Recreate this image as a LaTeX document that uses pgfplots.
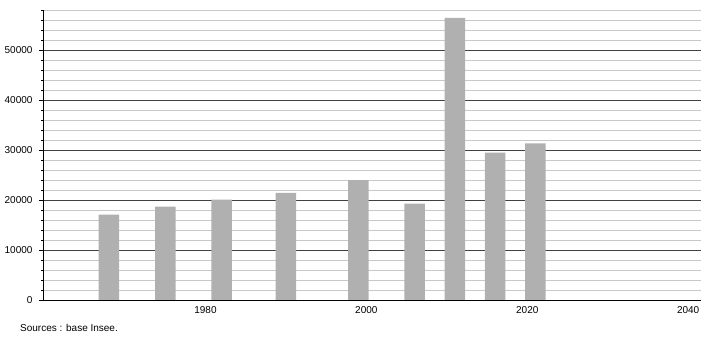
\documentclass[border=0pt]{standalone}
\usepackage{fontspec}
\setmainfont{Liberation Sans}
\usepackage{pgfplots}
\pgfplotsset{compat=1.18}
\definecolor{barg}{HTML}{B0B0B0}
\definecolor{majg}{HTML}{404040}
\definecolor{ming}{HTML}{C8C8C8}
\begin{document}
\begin{tikzpicture}
\useasboundingbox (0,0) rectangle (710pt,340pt);
\begin{axis}[
  at={(43pt,40pt)}, anchor=south west,
  scale only axis, width=658pt, height=290pt,
  xmin=1959.8, xmax=2041.6, ymin=0, ymax=58000,
  axis lines*=left,
  axis line style={black, line width=0.9pt},
  xtick={1980,2000,2020,2040},
  ytick={0,10000,20000,30000,40000,50000},
  minor ytick={2000,4000,...,58000},
  ymajorgrids, yminorgrids,
  major grid style={majg, line width=0.8pt},
  minor grid style={ming, line width=0.8pt},
  x tick style={draw=none},
  y tick style={black, line width=0.8pt},
  tick align=outside,
  major tick length=4pt, minor tick length=2pt,
  scaled y ticks=false,
  /pgf/number format/.cd, 1000 sep={}, assume math mode=true,
  /pgfplots/.cd,
  tick label style={font=\fontsize{10}{12}\selectfont, text=black},
  yticklabel style={xshift=-3pt},
  xticklabel style={yshift=1pt},
]
\addplot[ybar, bar width=2.55, fill=barg, draw=none] coordinates {
  (1968,17070) (1975,18680) (1982,20050) (1990,21420) (1999,23960)
  (2006,19280) (2011,56430) (2016,29450) (2021,31330)
};
\end{axis}
\node[anchor=west, inner sep=0pt, font=\fontsize{10}{12}\selectfont] at (20pt,12pt) {Sources : base Insee.};
\end{tikzpicture}
\end{document}
